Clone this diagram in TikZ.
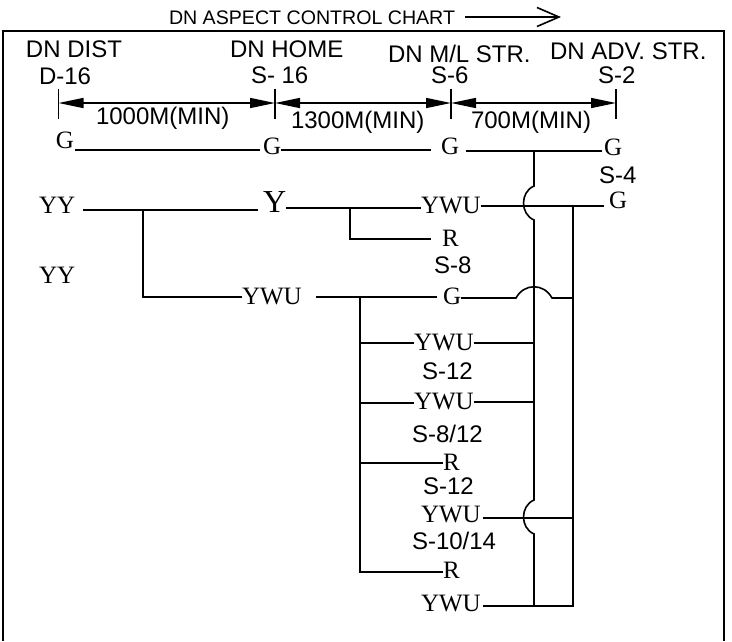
\documentclass[tikz,border=0pt]{standalone}
\usepackage{fontspec}
\setmainfont{Liberation Sans}
\newfontfamily\serifsig{Liberation Serif}
\usetikzlibrary{arrows.meta}
\tikzset{
  x=1pt,y=-1pt,
  lbl/.style={anchor=base west,inner sep=0pt,outer sep=0pt,font=\fontsize{24}{24}\selectfont},
  ttl/.style={anchor=base west,inner sep=0pt,outer sep=0pt,font=\fontsize{19.6}{20}\selectfont},
  sig/.style={anchor=base west,inner sep=0pt,outer sep=0pt,font=\serifsig\fontsize{25}{25}\selectfont},
  bigsig/.style={anchor=base west,inner sep=0pt,outer sep=0pt,font=\serifsig\fontsize{32}{32}\selectfont},
  wire/.style={line width=1.6pt,line join=miter},
  framed/.style={line width=2pt},
  dimline/.style={line width=1.5pt,{Triangle[length=25pt,width=10pt]}-{Triangle[length=25pt,width=10pt]}},
  tickline/.style={line width=1.6pt},
  dirarrow/.style={line width=1.6pt,-{Straight Barb[length=22pt,width=19pt,line width=1.6pt]}},
}
\begin{document}
\begin{tikzpicture}
\useasboundingbox (0,0) rectangle (732,641);
\fill[white] (0,0) rectangle (732,641);

% frame (no bottom edge)
\coordinate (fbl) at (3,641);
\coordinate (ftl) at (3,31);
\coordinate (ftr) at (724,31);
\coordinate (fbr) at (724,641);
\draw[framed] (fbl) -- (ftl) -- (ftr) -- (fbr);

% title
\node[ttl] (title) at (169,24) {DN ASPECT CONTROL CHART};
\coordinate (dirA) at (465,17);
\coordinate (dirB) at (561,17);
\draw[dirarrow] (dirA) -- (dirB);

% headers
\node[lbl] (h1) at (26,57) {DN DIST};
\node[lbl] (h1b) at (39,84) {D-16};
\node[lbl] (h2) at (230,57) {DN HOME};
\node[lbl] (h2b) at (251,83) {S- 16};
\node[lbl] (h3) at (388,62) {DN M/L STR.};
\node[lbl] (h3b) at (431,83) {S-6};
\node[lbl] (h4) at (550,59) {DN ADV. STR.};
\node[lbl] (h4b) at (598,83) {S-2};

% dimension ticks and lines
\foreach \n/\xx in {a/58.5,b/275,c/451,d/616}{
  \coordinate (t\n) at (\xx,89);
  \coordinate (b\n) at (\xx,119);
  \coordinate (m\n) at (\xx,103);
  \draw[tickline] (t\n) -- (b\n);
}
\draw[dimline] (ma) -- (mb);
\draw[dimline] (mb) -- (mc);
\draw[dimline] (mc) -- (md);
\node[lbl] (d1) at (96,124) {1000M(MIN)};
\node[lbl] (d2) at (291,128) {1300M(MIN)};
\node[lbl] (d3) at (471,128) {700M(MIN)};

% signal aspects
\node[sig] (g1) at (56,148) {G};
\node[sig] (g2) at (263,154) {G};
\node[sig] (g3) at (441,154) {G};
\node[sig] (g4) at (604,155) {G};
\node[lbl] (s4) at (599,183) {S-4};
\node[sig] (g5) at (609,208) {G};
\node[sig] (yy1) at (39,213) {YY};
\node[bigsig] (y1) at (263,212) {Y};
\node[sig] (ywu1) at (421,213) {YWU};
\node[sig] (r1) at (442,246) {R};
\node[lbl] (s8) at (434,273) {S-8};
\node[sig] (yy2) at (39,283) {YY};
\node[sig] (ywu2) at (242,304) {YWU};
\node[sig] (g6) at (443,304) {G};
\node[sig] (ywu3) at (414,350) {YWU};
\node[lbl] (s12a) at (422,379) {S-12};
\node[sig] (ywu4) at (414,409) {YWU};
\node[lbl] (s812) at (412,442) {S-8/12};
\node[sig] (r2) at (443,470) {R};
\node[lbl] (s12b) at (423,494) {S-12};
\node[sig] (ywu5) at (421,522) {YWU};
\node[lbl] (s1014) at (412,549) {S-10/14};
\node[sig] (r3) at (443,578) {R};
\node[sig] (ywu6) at (421,611) {YWU};

% junctions on the two buses and the branches
\coordinate (busT) at (534,151);
\coordinate (busA1) at (534,186);
\coordinate (busA2) at (534,220);
\coordinate (busB1) at (534,500);
\coordinate (busB2) at (534,534);
\coordinate (busE) at (534,606);
\coordinate (railT) at (573,206);
\coordinate (railG) at (573,298);
\coordinate (railS) at (573,518);
\coordinate (railE) at (573,606);
\coordinate (brA) at (143,210);
\coordinate (brAe) at (143,297);
\coordinate (brB) at (350,208);
\coordinate (brBe) at (350,239);
\coordinate (brC) at (360,297);
\coordinate (brC1) at (360,343);
\coordinate (brC2) at (360,403);
\coordinate (brC3) at (360,463);
\coordinate (brCe) at (360,572);
\coordinate (bumpA) at (516,298);
\coordinate (bumpB) at (552,298);

% row G
\draw[wire] ([xshift=1pt]g1.east |- 0,150) -- ([xshift=-3pt]g2.west |- 0,150);
\draw[wire] (g2.east |- 0,150) -- ([xshift=-10pt]g3.west |- 0,150);
\draw[wire] ([xshift=7pt]g3.east |- 0,151) -- ([xshift=-2pt]g4.west |- 0,151);
% main bus with crossing bumps
\draw[wire] (busT) -- (busA1) .. controls (520,192) and (520,214) .. (busA2)
  -- (busB1) .. controls (520,506) and (520,528) .. (busB2) -- (busE);
% row Y
\draw[wire] ([xshift=8pt]yy1.east |- 0,210) -- ([xshift=-5pt]y1.west |- 0,210);
\draw[wire] (y1.east |- 0,208) -- (ywu1.west |- 0,208);
\draw[wire] (ywu1.east |- 0,206) -- ([xshift=-5pt]g5.west |- 0,206);
\draw[wire] (brB) -- (brBe) -- ([xshift=-11pt]r1.west |- brBe);
% branch to lower YWU
\draw[wire] (brA) -- (brAe) -- (ywu2.west |- brAe);
\draw[wire] ([xshift=14pt]ywu2.east |- 0,297) -- ([xshift=-6pt]g6.west |- 0,297);
\draw[wire] (g6.east |- bumpA) -- (bumpA) .. controls (524,283) and (544,283) .. (bumpB) -- (railG);
% rail
\draw[wire] (railT) -- (railE) -- ([xshift=2pt]ywu6.east |- railE);
\draw[wire] ([xshift=2pt]ywu5.east |- railS) -- (railS);
% lower branch bus
\draw[wire] (brC) -- (brCe) -- (r3.west |- brCe);
\draw[wire] (brC1) -- (ywu3.west |- brC1);
\draw[wire] (ywu3.east |- brC1) -- (534,343);
\draw[wire] (brC2) -- (ywu4.west |- brC2);
\draw[wire] (ywu4.east |- 0,402) -- (534,402);
\draw[wire] (brC3) -- (r2.west |- brC3);
\end{tikzpicture}
\end{document}
